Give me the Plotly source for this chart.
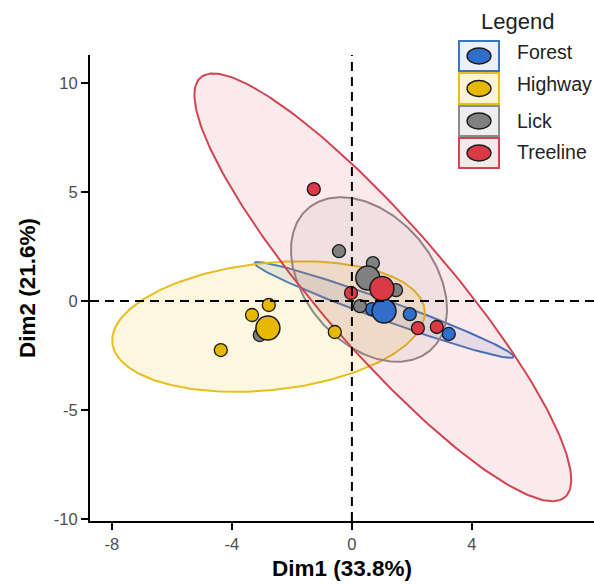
import numpy as np
import plotly.graph_objects as go

# ---- data -------------------------------------------------------------
groups = ["Forest", "Highway", "Lick", "Treeline"]
marker_colors = ["#2F6EC9", "#E7B800", "#808080", "#D93A45"]
line_colors = ["#3A75C4", "#E6BE1E", "#8C8C8C", "#D04552"]
fill_colors = ["rgba(58,117,196,0.12)", "rgba(240,200,30,0.14)",
               "rgba(128,128,128,0.09)", "rgba(215,60,80,0.11)"]
legend_fill = ["#EDF1F7", "#FBF4D6", "#EEEEEE", "#F7E8EB"]

# individual scores (Dim1, Dim2)
forest_x = [0.67, 1.93, 3.23]
forest_y = [-0.37, -0.60, -1.51]
highway_x = [-3.33, -2.77, -4.37, -0.57]
highway_y = [-0.64, -0.18, -2.25, -1.42]
lick_x = [-0.43, 0.70, 1.47, 0.27, -3.07]
lick_y = [2.29, 1.74, 0.50, -0.23, -1.56]
treeline_x = [-1.27, -0.03, 2.20, 2.83]
treeline_y = [5.14, 0.37, -1.24, -1.19]

# group means
centroid_x = [1.07, -2.80, 0.53, 1.00]
centroid_y = [-0.46, -1.24, 1.06, 0.58]

# concentration ellipses: centre, half-extent along each axis, correlation
ell_cx = [1.08, -2.78, 0.57, 1.03]
ell_cy = [-0.41, -1.17, 0.99, 0.63]
ell_sx = [4.32, 5.21, 2.60, 6.28]
ell_sy = [2.20, 3.00, 3.78, 9.82]
ell_r = [-0.975, 0.21, -0.36, -0.90]

x_ticks = [-8, -4, 0, 4]
x_tick_text = ["-8", "-4", "0", "4"]
y_ticks = [-10, -5, 0, 5, 10]
y_tick_text = ["-10", "-5", "0", "5", "10"]

points_x = [forest_x, highway_x, lick_x, treeline_x]
points_y = [forest_y, highway_y, lick_y, treeline_y]

FONT = "Liberation Sans, Arial, sans-serif"

fig = go.Figure()

# ellipses
t = np.linspace(0, 2 * np.pi, 241)
for i, g in enumerate(groups):
    r = ell_r[i]
    ex = ell_cx[i] + ell_sx[i] * np.cos(t)
    ey = ell_cy[i] + ell_sy[i] * (r * np.cos(t) + np.sqrt(1 - r * r) * np.sin(t))
    fig.add_trace(go.Scatter(
        x=ex, y=ey, mode="lines", fill="toself",
        fillcolor=fill_colors[i],
        line=dict(color=line_colors[i], width=2),
        hoverinfo="skip", showlegend=False, name=g))

# individual points
for i, g in enumerate(groups):
    fig.add_trace(go.Scatter(
        x=points_x[i], y=points_y[i], mode="markers", name=g,
        marker=dict(size=13, color=marker_colors[i],
                    line=dict(color="#1A1A1A", width=1.3)),
        showlegend=False))

# group centroids
for i, g in enumerate(groups):
    fig.add_trace(go.Scatter(
        x=[centroid_x[i]], y=[centroid_y[i]], mode="markers", name=g,
        marker=dict(size=24, color=marker_colors[i],
                    line=dict(color="#1A1A1A", width=1.5)),
        showlegend=False))

# reference lines through the origin
shapes = [
    dict(type="line", xref="x", yref="paper", x0=0, x1=0, y0=0, y1=1,
         line=dict(color="black", width=2, dash="9px,6px"), layer="above"),
    dict(type="line", xref="paper", yref="y", x0=0, x1=1, y0=0, y1=0,
         line=dict(color="black", width=2, dash="9px,6px"), layer="above"),
]

# legend drawn as keyed boxes (page pixel positions -> paper coordinates)
L, T, W, H = 90, 55, 504, 466
def px(xp):
    return (xp - L) / W
def py(yp):
    return (T + H - yp) / H

annotations = [dict(text="Legend", x=px(517), y=py(21), xref="paper", yref="paper",
                    showarrow=False, xanchor="center", yanchor="middle",
                    font=dict(family=FONT, size=22, color="#222222"))]
box_top = [41, 73, 106, 138]
box_bot = [71, 104, 136, 168]
text_y = [52, 84, 121, 152]
for i, g in enumerate(groups):
    shapes.append(dict(type="rect", xref="paper", yref="paper",
                       x0=px(459), x1=px(499), y0=py(box_bot[i]), y1=py(box_top[i]),
                       fillcolor=legend_fill[i],
                       line=dict(color=line_colors[i], width=2), layer="above"))
    cy = (box_top[i] + box_bot[i]) / 2
    shapes.append(dict(type="circle", xref="paper", yref="paper",
                       x0=px(467), x1=px(491), y0=py(cy + 8), y1=py(cy - 8),
                       fillcolor=marker_colors[i],
                       line=dict(color="#1A1A1A", width=1.3), layer="above"))
    annotations.append(dict(text=g, x=px(515), y=py(text_y[i]), xref="paper", yref="paper",
                            showarrow=False, xanchor="left", yanchor="middle",
                            font=dict(family=FONT, size=19.5, color="#222222")))

fig.update_layout(
    width=594, height=586,
    margin=dict(l=L, r=594 - L - W, t=T, b=586 - T - H),
    paper_bgcolor="white", plot_bgcolor="white",
    font=dict(family=FONT),
    shapes=shapes, annotations=annotations,
    xaxis=dict(range=[-8.73, 8.07], tickvals=x_ticks, ticktext=x_tick_text,
               showline=True, linecolor="black", linewidth=2,
               ticks="outside", ticklen=7, tickwidth=1.5, tickcolor="black",
               showgrid=False, zeroline=False,
               tickfont=dict(family=FONT, size=16.5, color="#4D4D4D"),
               title=dict(text="<b>Dim1 (33.8%)</b>", standoff=8,
                          font=dict(family=FONT, size=22.5, color="black"))),
    yaxis=dict(range=[-10.1, 11.3], tickvals=y_ticks, ticktext=y_tick_text,
               showline=True, linecolor="black", linewidth=2,
               ticks="outside", ticklen=7, tickwidth=1.5, tickcolor="black",
               showgrid=False, zeroline=False,
               tickfont=dict(family=FONT, size=16.5, color="#4D4D4D"),
               title=dict(text="<b>Dim2 (21.6%)</b>", standoff=12,
                          font=dict(family=FONT, size=22.5, color="black"))),
)

fig.write_html("out.html")
